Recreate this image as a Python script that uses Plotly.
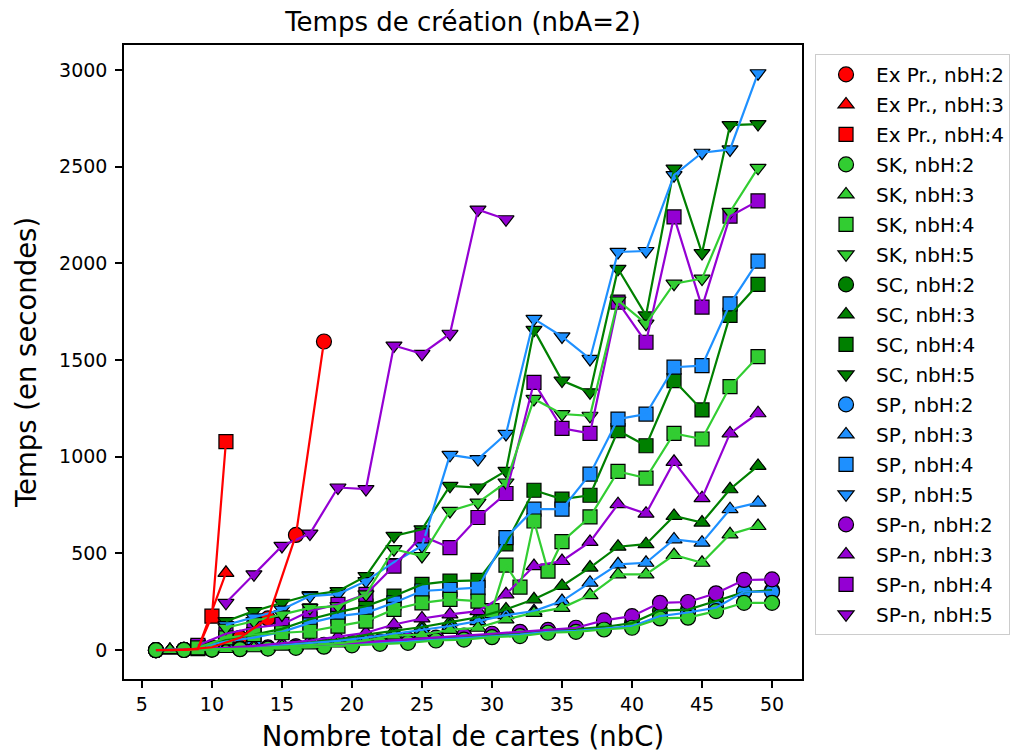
import plotly.graph_objects as go

# nbC values per number of hands
x_h2 = [6, 8, 10, 12, 14, 16, 18, 20, 22, 24, 26, 28, 30, 32, 34, 36, 38, 40, 42, 44, 46, 48, 50]
x_h3 = [7, 9, 11, 13, 15, 17, 19, 21, 23, 25, 27, 29, 31, 33, 35, 37, 39, 41, 43, 45, 47, 49]
x_h4 = [9, 11, 13, 15, 17, 19, 21, 23, 25, 27, 29, 31, 33, 35, 37, 39, 41, 43, 45, 47, 49]
x_h5 = [11, 13, 15, 17, 19, 21, 23, 25, 27, 29, 31, 33, 35, 37, 39, 41, 43, 45, 47, 49]

# Ex Pr.
x_ex2 = [6, 8, 10, 12, 14, 16, 18]
ex_h2 = [0, 2, 15, 64, 164, 596, 1596]
x_ex3 = [7, 9, 11]
ex_h3 = [0, 5, 400]
x_ex4 = [9, 10, 11]
ex_h4 = [8, 176, 1078]

# SK
sk_h2 = [0, 1, 3, 5, 8, 12, 18, 25, 33, 38, 50, 55, 67, 73, 90, 95, 107, 116, 164, 168, 202, 245, 245]
sk_h3 = [0, 2, 6, 10, 18, 25, 35, 50, 75, 80, 105, 116, 159, 193, 219, 285, 392, 392, 492, 452, 599, 642]
x_sk4 = [9, 11, 13, 15, 17, 19, 21, 23, 25, 27, 29, 30, 31, 32, 33, 34, 35, 37, 39, 41, 43, 45, 47, 49]
sk_h4 = [12, 64, 81, 90, 98, 124, 150, 211, 245, 263, 254, 205, 440, 326, 668, 409, 561, 689, 924, 890,
         1121, 1092, 1363, 1518]
sk_h5 = [116, 150, 185, 219, 228, 289, 522, 487, 720, 763, 867, 1299, 1221, 1212, 1808, 1688, 1895, 1921,
         2266, 2494]

# SC
sc_h2 = [0, 2, 4, 8, 12, 18, 25, 33, 42, 50, 60, 68, 78, 86, 100, 108, 120, 140, 205, 210, 254, 300, 310]
sc_h3 = [0, 4, 10, 18, 28, 40, 55, 80, 100, 120, 145, 170, 211, 263, 332, 427, 535, 548, 694, 660, 832, 953]
sc_h4 = [18, 55, 80, 110, 160, 197, 228, 280, 340, 357, 361, 550, 827, 781, 801, 1135, 1057, 1394, 1242,
         1731, 1891]
sc_h5 = [150, 202, 245, 285, 305, 383, 591, 625, 850, 841, 927, 1656, 1394, 1333, 1972, 1731, 2490, 2053,
         2715, 2720]

# SP
sp_h2 = [0, 2, 4, 7, 11, 16, 22, 30, 38, 45, 55, 62, 72, 80, 95, 100, 112, 124, 176, 195, 220, 302, 302]
sp_h3 = [0, 3, 8, 15, 25, 35, 48, 65, 85, 105, 125, 150, 181, 202, 254, 349, 444, 452, 573, 556, 729, 763]
sp_h4 = [15, 45, 65, 95, 141, 176, 193, 245, 306, 314, 323, 582, 729, 729, 910, 1195, 1221, 1463, 1471,
         1791, 2012]
sp_h5 = [130, 170, 210, 280, 290, 357, 455, 539, 1010, 988, 1118, 1713, 1622, 1506, 2059, 2064, 2456, 2572,
         2589, 2983]

# SP-n
spn_h2 = [0, 2, 5, 9, 14, 20, 28, 36, 45, 55, 65, 75, 85, 95, 105, 116, 154, 176, 245, 249, 294, 363, 366]
spn_h3 = [0, 5, 12, 22, 35, 50, 70, 90, 133, 164, 185, 202, 289, 435, 461, 560, 755, 706, 974, 786, 1121,
          1225]
spn_h4 = [25, 85, 116, 133, 203, 237, 289, 435, 591, 530, 686, 810, 1385, 1147, 1121, 1800, 1592, 2240,
          1774, 2244, 2323]
x_spn5 = [11, 13, 15, 17, 19, 21, 23, 25, 27, 29, 31]
spn_h5 = [245, 392, 539, 603, 841, 833, 1575, 1532, 1636, 2278, 2228]

colors = {'Ex Pr.': 'red', 'SK': 'limegreen', 'SC': 'green', 'SP': 'dodgerblue', 'SP-n': 'darkviolet'}
symbols = {2: 'circle', 3: 'triangle-up', 4: 'square', 5: 'triangle-down'}
sizes = {2: 15, 3: 14, 4: 14, 5: 14}
# drawing order of the markers (later on top)
draw_order = ['Ex Pr.', 'SC', 'SP', 'SP-n', 'SK']

series = [
    ('Ex Pr.', 2, x_ex2, ex_h2), ('Ex Pr.', 3, x_ex3, ex_h3), ('Ex Pr.', 4, x_ex4, ex_h4),
    ('SK', 2, x_h2, sk_h2), ('SK', 3, x_h3, sk_h3), ('SK', 4, x_sk4, sk_h4), ('SK', 5, x_h5, sk_h5),
    ('SC', 2, x_h2, sc_h2), ('SC', 3, x_h3, sc_h3), ('SC', 4, x_h4, sc_h4), ('SC', 5, x_h5, sc_h5),
    ('SP', 2, x_h2, sp_h2), ('SP', 3, x_h3, sp_h3), ('SP', 4, x_h4, sp_h4), ('SP', 5, x_h5, sp_h5),
    ('SP-n', 2, x_h2, spn_h2), ('SP-n', 3, x_h3, spn_h3), ('SP-n', 4, x_h4, spn_h4),
    ('SP-n', 5, x_spn5, spn_h5),
]

fig = go.Figure()

for method in draw_order:
    for rank, (m, nbh, x, y) in enumerate(series):
        if m != method:
            continue
        name = '%s, nbH:%d' % (m, nbh)
        fig.add_trace(go.Scatter(
            x=x, y=y, mode='markers', name=name, legendgroup=name,
            legendrank=rank + 1,
            marker=dict(symbol=symbols[nbh], size=sizes[nbh], color=colors[m],
                        line=dict(color='black', width=1.2))))

# lines are drawn above all markers, like plt.plot over plt.scatter
for method in draw_order[1:] + ['Ex Pr.']:
    for m, nbh, x, y in series:
        if m != method:
            continue
        fig.add_trace(go.Scatter(
            x=x, y=y, mode='lines', showlegend=False, hoverinfo='skip',
            line=dict(color=colors[m], width=2.2)))

axis_style = dict(showline=True, linecolor='black', linewidth=1.5, mirror=True,
                  ticks='outside', ticklen=7, tickwidth=1.5, tickcolor='black',
                  showgrid=False, zeroline=False, automargin=False,
                  tickfont=dict(size=19, color='black'))

# the page adds an 8px body margin, so the figure is a bit smaller and shifted
fig.update_layout(
    width=1013, height=748,
    margin=dict(l=116, r=218, t=37, b=77),
    paper_bgcolor='white', plot_bgcolor='white',
    font=dict(family='DejaVu Sans', color='black'),
    title=dict(text='Temps de création (nbA=2)', x=0.5, xref='paper',
               y=1 - 14 / 748, yref='container', yanchor='middle',
               font=dict(size=26)),
    xaxis=dict(range=[3.72, 52.14], tickvals=[5, 10, 15, 20, 25, 30, 35, 40, 45, 50],
               title=dict(text='Nombre total de cartes (nbC)', font=dict(size=27.5), standoff=13),
               ticklabelstandoff=0, **axis_style),
    yaxis=dict(range=[-149, 3129], tickvals=[0, 500, 1000, 1500, 2000, 2500, 3000],
               title=dict(text='Temps (en secondes)', font=dict(size=27.5), standoff=14),
               ticklabelstandoff=4, **axis_style),
    legend=dict(x=1.0177, y=0.986, xanchor='left', yanchor='top',
                bordercolor='#cccccc', borderwidth=1, font=dict(size=20),
                itemwidth=50, tracegroupgap=1),
    showlegend=True,
)

fig.write_html("out.html")
